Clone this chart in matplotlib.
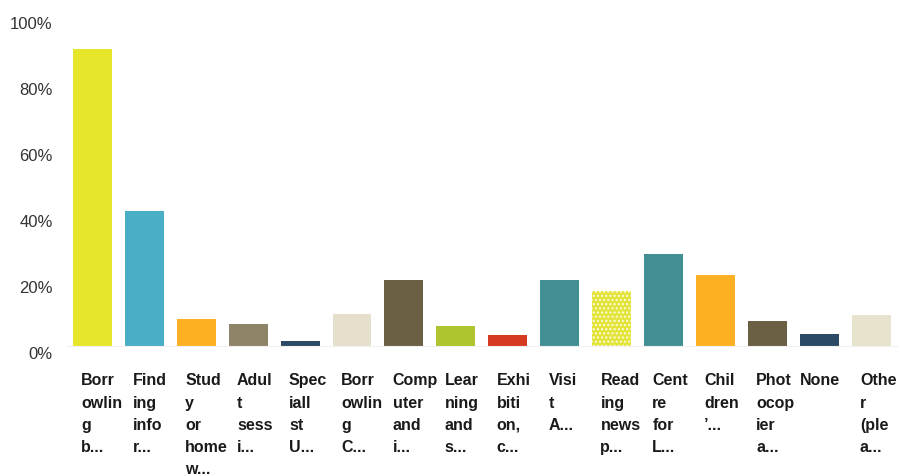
import matplotlib.pyplot as plt
import matplotlib.ticker as mticker

plt.rcParams["font.family"] = ["Liberation Sans", "DejaVu Sans"]

labels = [
    "Borr\nowlin\ng\nb...",
    "Find\ning\ninfo\nr...",
    "Stud\ny\nor\nhome\nw...",
    "Adul\nt\nsess\ni...",
    "Spec\niall\nst\nU...",
    "Borr\nowlin\ng\nC...",
    "Comp\nuter\nand\ni...",
    "Lear\nning\nand\ns...",
    "Exhi\nbiti\non,\nc...",
    "Visi\nt\nA...",
    "Read\ning\nnews\np...",
    "Cent\nre\nfor\nL...",
    "Chil\ndren\n\u2019...",
    "Phot\nocop\nier\na...",
    "None",
    "Othe\nr\n(ple\na...",
]
values = [90, 41, 8.2, 6.7, 1.5, 9.7, 20, 6, 3.3, 20, 16.7, 28, 21.5, 7.6, 3.6, 9.4]
colors = [
    "#e6e62a", "#4aafc6", "#fdb022", "#8f8467", "#2b4a66", "#e5dfcb",
    "#6b5f44", "#afc42e", "#d63b22", "#428f93", "#e3e33a", "#428f93",
    "#fdb022", "#6b5f44", "#2b4a66", "#e8e3cc",
]

fig = plt.figure(figsize=(9, 4.77), dpi=100)
ax = fig.add_axes([0.0739, 0.2725, 0.9228, 0.6918])

x = range(len(values))
bars = ax.bar(x, values, width=0.75, color=colors)
# the newspaper bar is speckled in the original
bars[10].set_hatch("....")
bars[10].set_edgecolor("#fbfbe0")
bars[10].set_linewidth(0)

ax.set_xlim(-0.5, len(values) - 0.5)
ax.set_ylim(0, 100)
ax.set_yticks([0, 20, 40, 60, 80, 100])
ax.yaxis.set_major_formatter(mticker.FuncFormatter(lambda v, p: f"{v:.0f}%"))
ax.tick_params(axis="y", length=0, pad=10, labelsize=12, labelcolor="#333333")
for lab in ax.get_yticklabels():
    lab.set_va("top")
ax.set_xticks([])

for s in ["top", "right", "left"]:
    ax.spines[s].set_visible(False)
ax.spines["bottom"].set_color("#f0f0f0")

for i, lab in enumerate(labels):
    dx = -8 if "\n" in lab else -14
    ax.annotate(
        lab,
        xy=(i, 0),
        xycoords=("data", "axes fraction"),
        xytext=(dx, -19),
        textcoords="offset points",
        ha="left",
        va="top",
        fontsize=11.5,
        fontweight="bold",
        color="#1a1a1a",
        linespacing=1.6,
    )

fig.savefig("out.png", dpi=100)
